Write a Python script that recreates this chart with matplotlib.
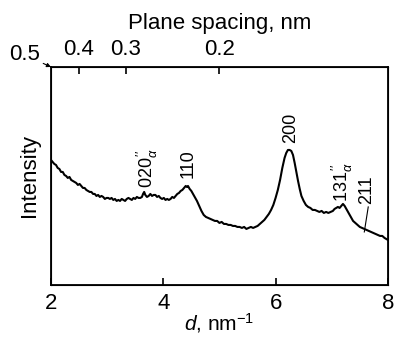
import matplotlib.pyplot as plt

plt.rcParams['font.family'] = ['Liberation Sans', 'DejaVu Sans']
plt.rcParams['mathtext.fontset'] = 'custom'
plt.rcParams['mathtext.rm'] = 'Liberation Sans'
plt.rcParams['mathtext.it'] = 'Liberation Sans:italic'

# d (nm^-1) and intensity (arb. units)
d = [2.00, 2.03, 2.06, 2.09, 2.12, 2.15, 2.18, 2.21, 2.24, 2.27, 2.30, 2.33,
     2.36, 2.39, 2.42, 2.45, 2.48, 2.51, 2.54, 2.57, 2.60, 2.63, 2.66, 2.69,
     2.72, 2.75, 2.78, 2.81, 2.84, 2.87, 2.90, 2.93, 2.96, 2.99, 3.02, 3.05,
     3.08, 3.11, 3.14, 3.17, 3.20, 3.23, 3.26, 3.29, 3.32, 3.35, 3.38, 3.41,
     3.44, 3.47, 3.50, 3.53, 3.56, 3.59, 3.62, 3.64, 3.66, 3.68, 3.71, 3.74,
     3.77, 3.80, 3.83, 3.86, 3.89, 3.92, 3.95, 3.98, 4.01, 4.04, 4.07, 4.10,
     4.13, 4.16, 4.19, 4.22, 4.25, 4.28, 4.31, 4.34, 4.37, 4.40, 4.42, 4.44,
     4.47, 4.50, 4.53, 4.56, 4.60, 4.64, 4.68, 4.72, 4.76, 4.80, 4.84, 4.88,
     4.92, 4.96, 5.00, 5.04, 5.08, 5.12, 5.16, 5.20, 5.24, 5.28, 5.32, 5.36,
     5.40, 5.44, 5.48, 5.52, 5.56, 5.60, 5.64, 5.68, 5.72, 5.76, 5.80, 5.84,
     5.88, 5.92, 5.96, 6.00, 6.04, 6.08, 6.12, 6.16, 6.19, 6.22, 6.25, 6.28,
     6.31, 6.34, 6.37, 6.40, 6.43, 6.46, 6.50, 6.54, 6.58, 6.62, 6.66, 6.70,
     6.74, 6.78, 6.82, 6.86, 6.90, 6.94, 6.98, 7.02, 7.05, 7.08, 7.11, 7.14,
     7.17, 7.20, 7.23, 7.26, 7.30, 7.34, 7.38, 7.42, 7.46, 7.50, 7.54, 7.58,
     7.62, 7.66, 7.70, 7.74, 7.78, 7.82, 7.86, 7.90, 7.94, 7.97, 8.00]
intensity = [125, 123, 121, 120, 117, 116, 113, 113, 110, 109, 107, 108,
             105, 104, 103, 102, 100, 101, 99, 97, 97, 95, 94, 93,
             93, 91, 91, 89, 90, 88, 89, 88, 86, 87, 87, 86,
             87, 85, 86, 84, 85, 84, 86, 85, 84, 86, 87, 86,
             85, 87, 86, 88, 87, 87, 88, 91, 93, 90, 88, 89,
             91, 89, 90, 90, 88, 89, 87, 86, 87, 85, 86, 85,
             86, 88, 87, 89, 91, 92, 94, 95, 97, 99, 98, 99,
             96, 94, 91, 88, 84, 79, 74, 70, 68, 67, 66, 65,
             64, 64, 62, 63, 61, 61, 60, 60, 59, 59, 58, 58,
             57, 58, 56, 57, 58, 57, 58, 59, 61, 63, 65, 68,
             71, 75, 80, 87, 95, 105, 117, 127, 132, 135, 135, 134,
             130, 122, 113, 104, 96, 89, 84, 80, 78, 77, 75, 75,
             74, 73, 74, 72, 73, 72, 73, 74, 76, 77, 78, 77,
             79, 81, 79, 76, 72, 68, 64, 62, 60, 58, 57, 56,
             55, 54, 53, 52, 51, 50, 49, 49, 47, 46, 45]

top_ticks = [0.4, 0.3, 0.2]

peak_labels = [r'020$_{\alpha}^{\,\prime\prime}$', '110', '200',
               r'131$_{\alpha}^{\,\prime\prime}$', '211']
peak_x = [3.71, 4.44, 6.26, 7.19, 7.63]
peak_y = [97, 107, 142, 83, 81]

fig = plt.figure(figsize=(3.95, 3.40), dpi=100)
ax = fig.add_axes([0.129, 0.162, 0.853, 0.641])
ax.plot(d, intensity, color='black', lw=1.5)
ax.set_xlim(2, 8)
ax.set_ylim(0, 218)
ax.set_xticks([2, 4, 6, 8])
ax.set_yticks([])
ax.tick_params(axis='x', direction='in', length=5, width=1.2, labelsize=16, pad=6)
for s in ax.spines.values():
    s.set_linewidth(1.3)
ax.set_xlabel(r'$d$, nm$^{\mathregular{-1}}$', fontsize=15, labelpad=-2)
ax.set_ylabel('Intensity', fontsize=16, labelpad=8)

ax2 = ax.twiny()
ax2.set_xlim(2, 8)
ax2.set_xticks([1 / v for v in top_ticks])
ax2.set_xticklabels([str(v) for v in top_ticks])
ax2.tick_params(axis='x', direction='in', length=5, width=1.2, labelsize=16, pad=5)
ax2.set_xlabel('Plane spacing, nm', fontsize=16, labelpad=7)

# 0.5 label with a small arrow to the corner
ax.annotate('0.5', xy=(2, 218), xytext=(25, 285), textcoords='figure pixels',
            fontsize=16, ha='center', va='center', annotation_clip=False,
            arrowprops=dict(arrowstyle='-|>', color='black', lw=0.8,
                            mutation_scale=6, shrinkA=11, shrinkB=0))

for lab, x, y in zip(peak_labels, peak_x, peak_y):
    ax.text(x, y, lab, rotation=90, ha='center', va='bottom', fontsize=13)

# leader line for 211
ax.plot([7.65, 7.58], [78, 53], color='black', lw=0.8)

fig.savefig('out.png', dpi=100)
